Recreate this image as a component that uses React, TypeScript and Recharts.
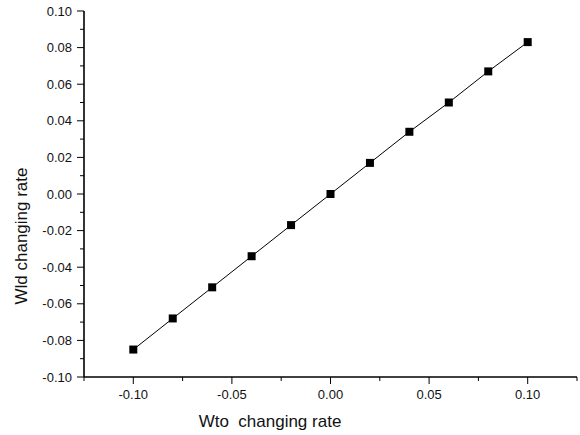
import React from "react"
import { Label, Line, LineChart, XAxis, YAxis } from "recharts"

const wtoRate = [-0.1, -0.08, -0.06, -0.04, -0.02, 0, 0.02, 0.04, 0.06, 0.08, 0.1]
const wldRate = [-0.085, -0.068, -0.051, -0.034, -0.017, 0, 0.017, 0.034, 0.05, 0.067, 0.083]

const xTicks = [-0.125, -0.1, -0.075, -0.05, -0.025, 0, 0.025, 0.05, 0.075, 0.1, 0.125]
const yTicks = [
  -0.1, -0.09, -0.08, -0.07, -0.06, -0.05, -0.04, -0.03, -0.02, -0.01, 0,
  0.01, 0.02, 0.03, 0.04, 0.05, 0.06, 0.07, 0.08, 0.09, 0.1
]

const data = wtoRate.map((x, i) => ({ x, y: wldRate[i] }))

const font = "'Liberation Sans', Arial, sans-serif"

function XTick(props: any) {
  const { x, y, payload } = props
  const v = Number(payload.value)
  const major = Math.round(v * 1000) % 50 === 0
  return (
    <g>
      <line x1={x} x2={x} y1={y} y2={y + (major ? 7 : 4)} stroke="#000" strokeWidth={1} />
      {major && (
        <text x={x} y={y + 22} textAnchor="middle" fontSize={13} fontFamily={font} fill="#111">
          {v.toFixed(2)}
        </text>
      )}
    </g>
  )
}

function YTick(props: any) {
  const { x, y, payload } = props
  const v = Number(payload.value)
  const major = Math.round(v * 100) % 2 === 0
  return (
    <g>
      <line x1={x - (major ? 7 : 4)} x2={x} y1={y} y2={y} stroke="#000" strokeWidth={1} />
      {major && (
        <text x={x - 12} y={y + 4.5} textAnchor="end" fontSize={13} fontFamily={font} fill="#111">
          {v.toFixed(2)}
        </text>
      )}
    </g>
  )
}

function SquareDot(props: any) {
  const { cx, cy } = props
  if (cx == null || cy == null) return null
  return <rect x={cx - 4} y={cy - 4} width={8} height={8} fill="#000" />
}

export default function App() {
  return (
    <div style={{ position: "absolute", left: 0, top: 0, width: 580, height: 435, background: "#fff" }}>
      <LineChart width={580} height={435} data={data} margin={{ top: 11, right: 3, bottom: 0, left: 0 }}>
        <XAxis
          type="number"
          dataKey="x"
          domain={[-0.125, 0.125]}
          ticks={xTicks}
          interval={0}
          height={58}
          tickSize={0}
          tickMargin={0}
          tickLine={false}
          tick={<XTick />}
          axisLine={{ stroke: "#000", strokeWidth: 1.6 }}
        >
          <Label
            content={({ viewBox }: any) => (
              <text
                x={viewBox.x + 186}
                y={viewBox.y + 50}
                textAnchor="middle"
                fontSize={17}
                fontFamily={font}
                fill="#111"
                style={{ whiteSpace: "pre" }}
              >
                {"Wto  changing rate"}
              </text>
            )}
          />
        </XAxis>
        <YAxis
          type="number"
          dataKey="y"
          domain={[-0.1, 0.1]}
          ticks={yTicks}
          interval={0}
          width={84}
          tickSize={0}
          tickMargin={0}
          tickLine={false}
          tick={<YTick />}
          axisLine={{ stroke: "#000", strokeWidth: 1.6 }}
        >
          <Label
            content={() => (
              <text
                x={27}
                y={236}
                textAnchor="middle"
                fontSize={17}
                fontFamily={font}
                fill="#111"
                transform="rotate(-90 27 236)"
              >
                Wld changing rate
              </text>
            )}
          />
        </YAxis>
        <Line
          type="linear"
          dataKey="y"
          stroke="#000"
          strokeWidth={1}
          dot={<SquareDot />}
          activeDot={false}
          isAnimationActive={false}
        />
      </LineChart>
    </div>
  )
}
